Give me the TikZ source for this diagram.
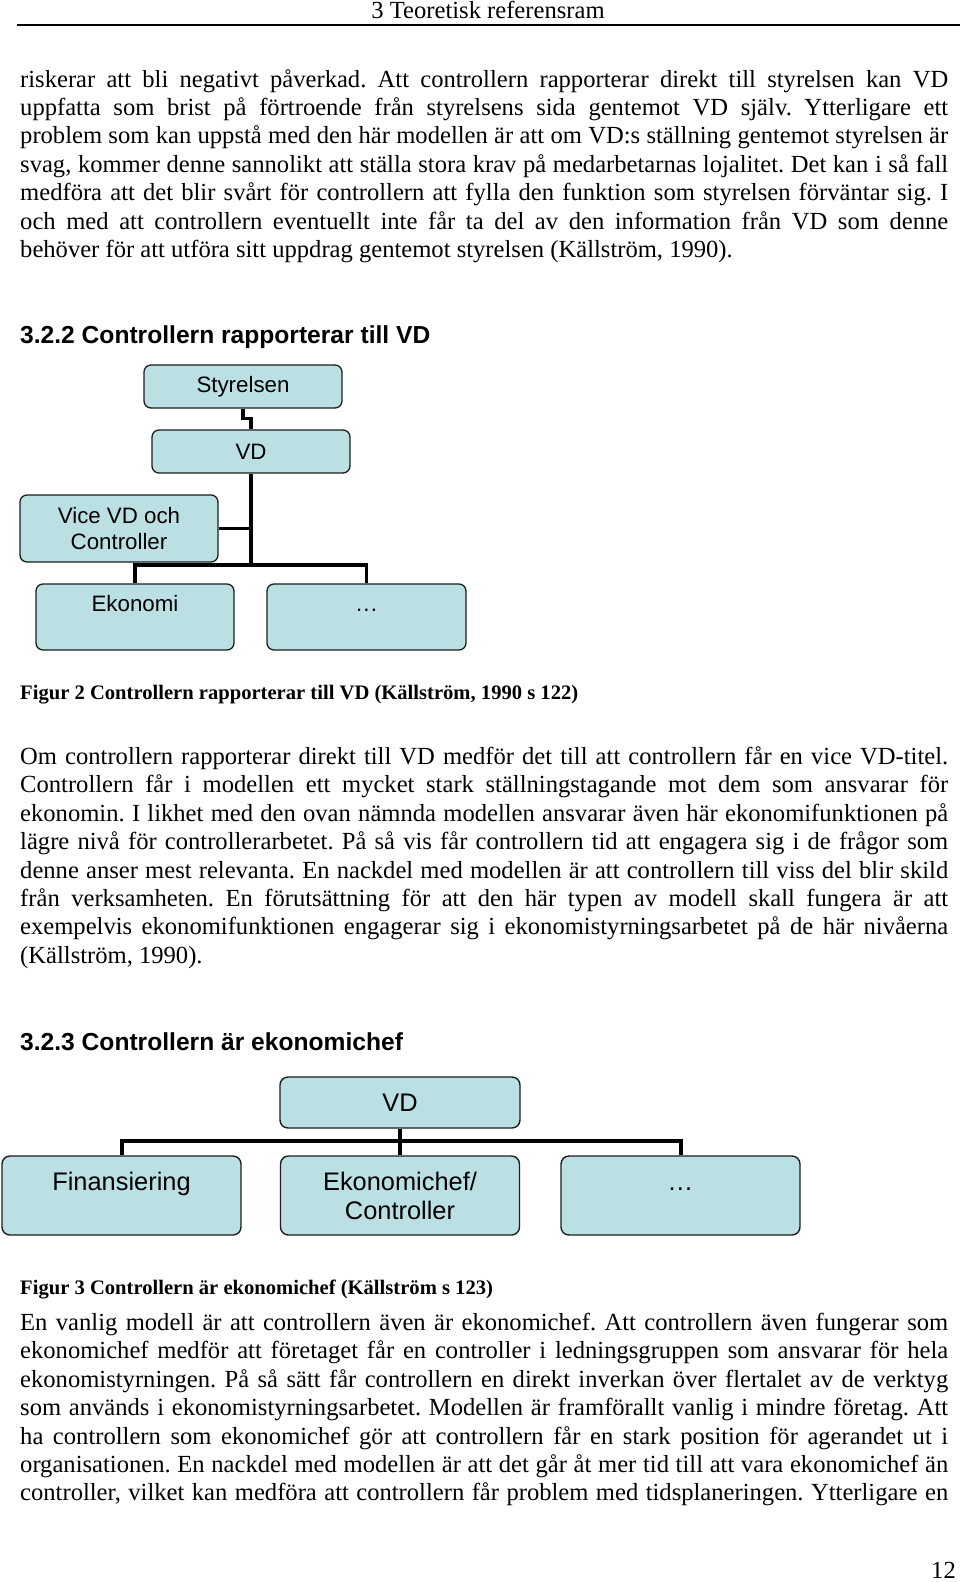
\documentclass[tikz,border=0pt]{standalone}
\usepackage{fontspec}
\setmainfont{Liberation Serif}
\newfontfamily\arialf{Liberation Sans}
\frenchspacing
\definecolor{boxblue}{RGB}{187,224,228}
\definecolor{boxline}{RGB}{30,30,30}
\newcommand\JustLine[3]{\node[bodytext] (#1) at (20,#2) {\makebox[928pt][s]{#3}};}
\newcommand\LastLine[3]{\node[bodytext] (#1) at (20,#2) {#3};}
\newcommand\dotsx{\vphantom{Ekf}.\kern1.2pt.\kern1.2pt.}
\begin{document}
\begin{tikzpicture}[x=1pt,y=-1pt,
  bodytext/.style={anchor=base west,inner sep=0pt,font=\fontsize{24.6}{28.4}\selectfont},
  headtext/.style={anchor=base west,inner sep=0pt,font=\arialf\bfseries\fontsize{24.6}{28.4}\selectfont},
  captext/.style={anchor=base west,inner sep=0pt,font=\bfseries\fontsize{20.6}{24}\selectfont},
  orgbox/.style={draw=boxline,line width=1.3pt,fill=boxblue,rounded corners=7pt,
    minimum width=198pt,align=center,inner sep=0pt,
    font=\arialf\fontsize{22.3}{26.7}\selectfont},
  orgboxb/.style={draw=boxline,line width=1.4pt,fill=boxblue,rounded corners=8pt,
    minimum width=239pt,align=center,inner sep=0pt,
    font=\arialf\fontsize{25.4}{29}\selectfont},
  conn/.style={draw=black,line width=3.6pt},
  connb/.style={draw=black,line width=4pt}
]
\useasboundingbox[fill=white] (0,0) rectangle (960,1582);

% header
\node[anchor=base,inner sep=0pt,font=\fontsize{24.6}{28}\selectfont] (hdr) at (488,19) {3 Teoretisk referensram};
\coordinate (rl) at (17,25);
\coordinate (rr) at (960,25);
\draw[line width=1.4pt] (rl) -- (rr);

% paragraph 1
\JustLine{a1}{87}{riskerar att bli negativt påverkad. Att controllern rapporterar direkt till styrelsen kan VD}
\JustLine{a2}{115.4}{uppfatta som brist på förtroende från styrelsens sida gentemot VD själv. Ytterligare ett}
\JustLine{a3}{143.8}{problem som kan uppstå med den här modellen är att om VD:s ställning gentemot styrelsen är}
\JustLine{a4}{172.2}{svag, kommer denne sannolikt att ställa stora krav på medarbetarnas lojalitet. Det kan i så fall}
\JustLine{a5}{200.6}{medföra att det blir svårt för controllern att fylla den funktion som styrelsen förväntar sig. I}
\JustLine{a6}{229}{och med att controllern eventuellt inte får ta del av den information från VD som denne}
\LastLine{a7}{257.4}{behöver för att utföra sitt uppdrag gentemot styrelsen (Källström, 1990).}

% heading 3.2.2
\node[headtext] (h1) at (20,343) {3.2.2 Controllern rapporterar till VD};

% diagram 1
\node[orgbox,minimum height=43pt] (sty) at (243,386.5) {Styrelsen};
\node[orgbox,minimum height=43pt] (vd) at (251,451.5) {VD};
\node[orgbox,minimum height=67pt] (vice) at (119,528.5) {Vice VD och\\Controller};
\node[orgbox,minimum height=66pt] (eko) at (135,617) {Ekonomi\\~};
\node[orgbox,minimum height=66pt,minimum width=199pt] (dots) at (366.5,617) {\dotsx\\~};
\coordinate (bar1) at (251,565);
\draw[conn] (sty.south) -- ++(0,10) -| (vd.north);
\draw[conn] (vd.south) -- (bar1);
\draw[conn] (vice.east) -- (vice.east -| vd.south);
\draw[conn] (eko.north) |- (bar1) -| (dots.north);

% caption 2
\node[captext] (c2) at (20,699) {Figur 2 Controllern rapporterar till VD (Källström, 1990 s 122)};

% paragraph 2
\JustLine{b1}{764.5}{Om controllern rapporterar direkt till VD medför det till att controllern får en vice VD-titel.}
\JustLine{b2}{792.9}{Controllern får i modellen ett mycket stark ställningstagande mot dem som ansvarar för}
\JustLine{b3}{821.3}{ekonomin. I likhet med den ovan nämnda modellen ansvarar även här ekonomifunktionen på}
\JustLine{b4}{849.7}{lägre nivå för controllerarbetet. På så vis får controllern tid att engagera sig i de frågor som}
\JustLine{b5}{878.1}{denne anser mest relevanta. En nackdel med modellen är att controllern till viss del blir skild}
\JustLine{b6}{906.5}{från verksamheten. En förutsättning för att den här typen av modell skall fungera är att}
\JustLine{b7}{934.9}{exempelvis ekonomifunktionen engagerar sig i ekonomistyrningsarbetet på de här nivåerna}
\LastLine{b8}{963.3}{(Källström, 1990).}

% heading 3.2.3
\node[headtext] (h2) at (20,1050) {3.2.3 Controllern är ekonomichef};

% diagram 2
\node[orgboxb,minimum height=51pt,minimum width=240pt] (vd2) at (400,1102.5) {VD};
\node[orgboxb,minimum height=79pt] (fin) at (121.5,1195.5) {Finansiering\\~};
\node[orgboxb,minimum height=79pt] (eko2) at (400,1195.5) {Ekonomichef/\\Controller};
\node[orgboxb,minimum height=79pt] (dots2) at (680.5,1195.5) {\dotsx\\~};
\coordinate (bar2) at (400,1141);
\draw[connb] (vd2.south) -- (eko2.north);
\draw[connb] (fin.north) |- (bar2) -| (dots2.north);

% caption 3
\node[captext] (c3) at (20,1294) {Figur 3 Controllern är ekonomichef (Källström s 123)};

% paragraph 3
\JustLine{d1}{1330.5}{En vanlig modell är att controllern även är ekonomichef. Att controllern även fungerar som}
\JustLine{d2}{1358.9}{ekonomichef medför att företaget får en controller i ledningsgruppen som ansvarar för hela}
\JustLine{d3}{1387.3}{ekonomistyrningen. På så sätt får controllern en direkt inverkan över flertalet av de verktyg}
\JustLine{d4}{1415.7}{som används i ekonomistyrningsarbetet. Modellen är framförallt vanlig i mindre företag. Att}
\JustLine{d5}{1444.1}{ha controllern som ekonomichef gör att controllern får en stark position för agerandet ut i}
\JustLine{d6}{1472.5}{organisationen. En nackdel med modellen är att det går åt mer tid till att vara ekonomichef än}
\JustLine{d7}{1500.9}{controller, vilket kan medföra att controllern får problem med tidsplaneringen. Ytterligare en}

% page number
\node[anchor=base east,inner sep=0pt,font=\fontsize{24.6}{28}\selectfont] (pg) at (956,1578) {12};
\end{tikzpicture}
\end{document}
